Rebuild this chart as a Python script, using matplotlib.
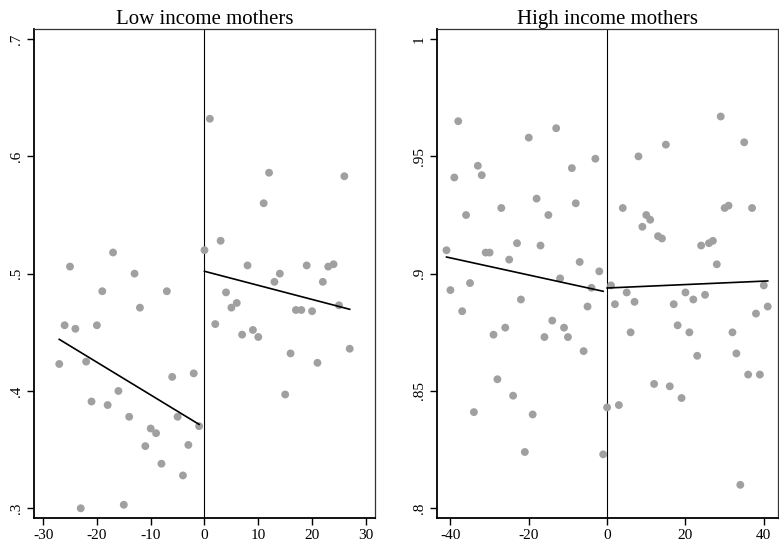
import matplotlib
matplotlib.use("Agg")
import matplotlib.pyplot as plt
import numpy as np

plt.rcParams["font.family"] = ["Liberation Serif", "DejaVu Serif"]
plt.rcParams["axes.unicode_minus"] = False

# --- low income mothers: binned means ---
low_x = np.arange(-27, 28)
low_y = [0.423, 0.456, 0.506, 0.453, 0.300, 0.425, 0.391, 0.456, 0.485, 0.388,
         0.518, 0.400, 0.303, 0.378, 0.500, 0.471, 0.353, 0.368, 0.364, 0.338,
         0.485, 0.412, 0.378, 0.328, 0.354, 0.415, 0.370,
         0.520, 0.632, 0.457, 0.528, 0.484, 0.471, 0.475, 0.448, 0.507, 0.452,
         0.446, 0.560, 0.586, 0.493, 0.500, 0.397, 0.432, 0.469, 0.469, 0.507,
         0.468, 0.424, 0.493, 0.506, 0.508, 0.473, 0.583, 0.436]
low_fit_left_x  = [-27, -1]
low_fit_left_y  = [0.444, 0.3715]
low_fit_right_x = [0, 27]
low_fit_right_y = [0.502, 0.4696]

# --- high income mothers: binned means ---
high_x = np.arange(-41, 42)
high_y = [0.910, 0.893, 0.941, 0.965, 0.884, 0.925, 0.896, 0.841, 0.946, 0.942,
          0.909, 0.909, 0.874, 0.855, 0.928, 0.877, 0.906, 0.848, 0.913, 0.889,
          0.824, 0.958, 0.840, 0.932, 0.912, 0.873, 0.925, 0.880, 0.962, 0.898,
          0.877, 0.873, 0.945, 0.930, 0.905, 0.867, 0.886, 0.894, 0.949, 0.901,
          0.823,
          0.843, 0.895, 0.887, 0.844, 0.928, 0.892, 0.875, 0.888, 0.950, 0.920,
          0.925, 0.923, 0.853, 0.916, 0.915, 0.955, 0.852, 0.887, 0.878, 0.847,
          0.892, 0.875, 0.889, 0.865, 0.912, 0.891, 0.913, 0.914, 0.904, 0.967,
          0.928, 0.929, 0.875, 0.866, 0.810, 0.956, 0.857, 0.928, 0.883, 0.857,
          0.895, 0.886]
high_fit_left_x  = [-41, -1]
high_fit_left_y  = [0.9071, 0.8925]
high_fit_right_x = [0, 41]
high_fit_right_y = [0.8939, 0.8969]

low_xticks = [-30, -20, -10, 0, 10, 20, 30]
low_yticks = [0.3, 0.4, 0.5, 0.6, 0.7]
low_yticklabels = [".3", ".4", ".5", ".6", ".7"]
high_xticks = [-40, -20, 0, 20, 40]
high_yticks = [0.80, 0.85, 0.90, 0.95, 1.0]
high_yticklabels = [".8", ".85", ".9", ".95", "1"]

DOT = "#a0a0a0"

fig = plt.figure(figsize=(7.79, 5.47), dpi=100)
ax1 = fig.add_axes([0.0436, 0.0536, 0.4378, 0.8934])
ax2 = fig.add_axes([0.5606, 0.0536, 0.4385, 0.8934])


def style(ax, title, xticks, yticks, yticklabels):
    ax.set_title(title, fontsize=15, pad=3)
    ax.set_xticks(xticks)
    ax.set_xticklabels([str(t) for t in xticks], fontsize=11)
    ax.set_yticks(yticks)
    ax.set_yticklabels(yticklabels, fontsize=11, rotation=90, va="center")
    ax.tick_params(length=5, width=1, color="k", pad=3)
    for side in ("left", "bottom"):
        ax.spines[side].set_linewidth(1.3)
        ax.spines[side].set_color("k")
    for side in ("top", "right"):
        ax.spines[side].set_linewidth(0.9)
        ax.spines[side].set_color("#333333")


ax1.scatter(low_x, low_y, s=32, color=DOT, edgecolors="none", zorder=2)
ax1.plot(low_fit_left_x, low_fit_left_y, color="k", lw=1.2, zorder=3)
ax1.plot(low_fit_right_x, low_fit_right_y, color="k", lw=1.2, zorder=3)
ax1.axvline(0, color="k", lw=0.8, zorder=1)
ax1.set_xlim(-31.7, 31.7)
ax1.set_ylim(0.292, 0.7085)
style(ax1, "Low income mothers", low_xticks, low_yticks, low_yticklabels)

ax2.scatter(high_x, high_y, s=32, color=DOT, edgecolors="none", zorder=2)
ax2.plot(high_fit_left_x, high_fit_left_y, color="k", lw=1.2, zorder=3)
ax2.plot(high_fit_right_x, high_fit_right_y, color="k", lw=1.2, zorder=3)
ax2.axvline(0, color="k", lw=0.8, zorder=1)
ax2.set_xlim(-43.5, 43.7)
ax2.set_ylim(0.796, 1.0043)
style(ax2, "High income mothers", high_xticks, high_yticks, high_yticklabels)

fig.savefig("out.png", dpi=100)
